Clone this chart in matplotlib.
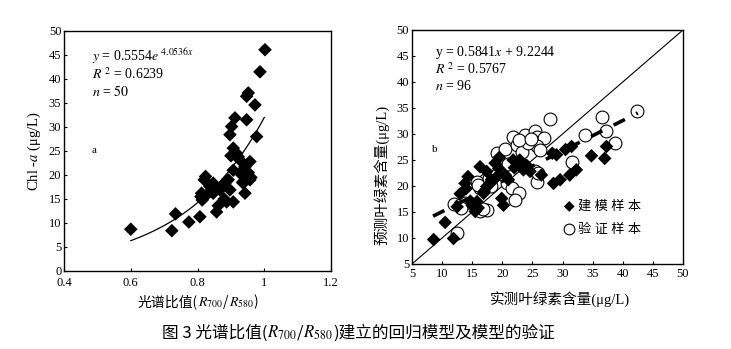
import matplotlib
matplotlib.use("Agg")
import matplotlib.pyplot as plt
from matplotlib.offsetbox import TextArea, HPacker, AnnotationBbox
import numpy as np

plt.rcParams['font.family'] = ['Liberation Serif', 'Noto Sans CJK SC', 'DejaVu Sans']
plt.rcParams['mathtext.fontset'] = 'stix'

# ---- Panel a data: spectral ratio vs Chl-a ----
ratio_a = [0.600, 0.734, 0.723, 0.774, 0.807, 0.857, 0.862, 0.812, 0.814, 0.824,
           0.847, 0.837, 0.847, 0.867, 0.882, 0.892, 0.897, 0.887, 0.907, 0.897,
           0.902, 0.912, 0.947, 0.907, 0.922, 0.907, 0.927, 0.937, 0.947, 0.957,
           0.942, 0.957, 0.952, 0.947, 0.972, 0.977, 0.987, 1.002, 0.927, 0.942,
           0.832, 0.810, 0.870, 0.917, 0.952, 0.880, 0.820, 0.900, 0.935, 0.960]
chl_a = [8.7, 11.9, 8.4, 10.2, 11.3, 12.3, 13.6, 16.2, 14.8, 19.7,
         18.3, 17.6, 16.2, 16.9, 18.3, 19.0, 16.9, 14.4, 14.4, 28.4,
         30.1, 31.9, 31.5, 25.6, 23.8, 21.0, 20.4, 18.3, 19.7, 19.0,
         16.2, 22.8, 37.1, 36.4, 34.6, 28.0, 41.5, 46.1, 23.1, 21.7,
         16.2, 15.5, 17.5, 24.5, 20.5, 15.0, 19.0, 24.0, 18.5, 19.5]
fit_a_coef = 0.5554
fit_a_exp = 4.0536

# ---- Panel b data: measured vs predicted ----
meas_model = [8.6, 10.5, 11.9, 13.0, 14.3, 14.7, 15.0, 15.5, 15.8, 16.3,
              17.4, 16.9, 17.4, 18.2, 18.8, 19.4, 19.1, 19.9, 20.2, 20.5,
              21.0, 21.8, 22.9, 23.5, 24.6, 26.5, 28.3, 29.0, 28.5, 29.6,
              31.2, 31.5, 32.3, 34.8, 37.0, 37.3, 13.8, 16.0, 18.0, 22.0,
              24.0, 15.2, 17.0, 19.5, 12.5, 14.0, 23.0, 30.5]
pred_model = [9.7, 13.0, 9.9, 18.5, 21.8, 17.1, 16.3, 15.1, 17.0, 23.7,
              22.8, 18.6, 19.9, 21.2, 24.4, 23.4, 21.8, 17.6, 16.3, 22.1,
              21.2, 25.0, 25.0, 23.1, 22.8, 22.1, 26.3, 26.0, 20.5, 21.2,
              22.1, 27.6, 23.1, 25.8, 25.3, 27.6, 20.5, 15.8, 20.5, 23.5,
              24.0, 16.0, 19.0, 25.5, 16.0, 19.5, 24.5, 27.0]
meas_valid = [12.5, 11.9, 12.9, 13.8, 16.3, 17.4, 17.1, 16.3, 19.1, 20.5,
              21.8, 22.4, 23.2, 23.8, 25.4, 25.7, 25.4, 26.9, 25.7, 27.9,
              20.7, 21.6, 22.7, 22.1, 25.4, 25.7, 33.7, 36.5, 37.3, 38.7,
              42.3, 31.5, 19.6, 15.8, 17.8, 18.5, 24.2, 26.2, 20.0, 13.2,
              22.8, 16.8, 23.5, 24.8, 18.2, 16.0, 21.0, 26.0]
pred_valid = [11.0, 16.5, 16.3, 16.8, 15.1, 15.4, 21.2, 19.6, 26.3, 27.2,
              29.5, 27.9, 26.6, 29.8, 30.5, 29.5, 28.5, 29.2, 27.6, 32.8,
              20.5, 19.6, 18.6, 17.3, 22.8, 20.8, 29.8, 33.3, 30.5, 28.3,
              34.5, 24.7, 23.1, 20.8, 21.5, 22.0, 28.2, 27.0, 22.3, 15.8,
              28.8, 15.6, 24.0, 29.0, 20.0, 20.2, 24.2, 22.5]
fit_b_slope = 0.5841
fit_b_icpt = 9.2244

fig = plt.figure(figsize=(7.31, 3.49), dpi=100)


def mixed_text(parts, xy, fontsize):
    """parts: list of strings; strings with $ are rendered as STIX math,
    others as CJK/serif text. Packed on a common baseline."""
    kids = []
    for p in parts:
        if '$' in p:
            props = dict(fontsize=fontsize, math_fontfamily='stix')
        else:
            props = dict(fontsize=fontsize, family=['Noto Sans CJK SC', 'DejaVu Sans'])
        kids.append(TextArea(p, textprops=props))
    pack = HPacker(children=kids, pad=0, sep=0, align='baseline')
    ab = AnnotationBbox(pack, xy, xycoords='figure fraction', frameon=False,
                        box_alignment=(0.5, 0.5), pad=0)
    fig.add_artist(ab)


# ---------- Panel a ----------
ax1 = fig.add_axes([0.0876, 0.2235, 0.3653, 0.6877])
ax1.scatter(ratio_a, chl_a, marker='D', s=48, color='black', edgecolors='none', zorder=3)
xs = np.linspace(0.6, 1.0, 100)
ax1.plot(xs, fit_a_coef * np.exp(fit_a_exp * xs), color='black', lw=0.9, zorder=2)
ax1.set_xlim(0.4, 1.2)
ax1.set_ylim(0, 50)
ax1.set_xticks([0.4, 0.6, 0.8, 1.0, 1.2])
ax1.set_xticklabels(['0.4', '0.6', '0.8', '1', '1.2'])
ax1.set_yticks(np.arange(0, 51, 5))
ax1.text(0.105, 0.935, r'$y$ = 0.5554$e^{\ 4.0536x}$', transform=ax1.transAxes, fontsize=10,
         va='top', math_fontfamily='stix')
ax1.text(0.105, 0.855, r'$R^{\ 2}$ = 0.6239', transform=ax1.transAxes, fontsize=10,
         va='top', math_fontfamily='stix')
ax1.text(0.105, 0.78, r'$n$ = $50$', transform=ax1.transAxes, fontsize=10,
         va='top', math_fontfamily='stix')
ax1.text(0.105, 0.5, 'a', transform=ax1.transAxes, fontsize=8, va='center')
ax1.set_ylabel('Chl -$a$ (μg/L)', fontsize=10.5, labelpad=4, math_fontfamily='stix')
mixed_text(['光谱比值(', r'$R_{700}$', '/', r'$R_{580}$', ')'], (0.271, 1 - 302 / 349), 10)

# ---------- Panel b ----------
ax2 = fig.add_axes([0.5636, 0.2436, 0.3707, 0.6705])
ax2.plot([5, 50], [5, 50], color='black', lw=0.8, zorder=1)
xb = np.array([8.5, 42.5])
ax2.plot(xb, fit_b_slope * xb + fit_b_icpt, color='black', lw=2.6,
         dashes=(3.5, 3.5), zorder=4)
ax2.scatter(meas_valid, pred_valid, marker='o', s=85, facecolors='white',
            edgecolors='black', linewidths=0.8, zorder=2, label='验 证 样 本')
ax2.scatter(meas_model, pred_model, marker='D', s=48, color='black',
            edgecolors='none', zorder=3, label='建 模 样 本')
ax2.set_xlim(5, 50)
ax2.set_ylim(5, 50)
ax2.set_xticks(np.arange(5, 51, 5))
ax2.set_yticks(np.arange(5, 51, 5))
ax2.text(0.085, 0.94, r'y = 0.5841$x$ + 9.2244', transform=ax2.transAxes, fontsize=10,
         va='top', math_fontfamily='stix')
ax2.text(0.085, 0.865, r'$R^{\ 2}$ = 0.5767', transform=ax2.transAxes, fontsize=10,
         va='top', math_fontfamily='stix')
ax2.text(0.085, 0.79, r'$n$ = 96', transform=ax2.transAxes, fontsize=10,
         va='top', math_fontfamily='stix')
ax2.text(0.075, 0.49, 'b', transform=ax2.transAxes, fontsize=8, va='center')
h, l = ax2.get_legend_handles_labels()
leg = ax2.legend([h[1], h[0]], [l[1], l[0]], loc='lower left', bbox_to_anchor=(0.5, 0.07),
                 frameon=False, fontsize=9.5, handletextpad=-0.1, labelspacing=0.8,
                 handlelength=1.5)
leg.legend_handles[0].set_sizes([30])
leg.legend_handles[1].set_sizes([60])
ax2.set_xlabel('实测叶绿素含量(μg/L)', fontsize=10.5)
ax2.set_ylabel('预测叶绿素含量(μg/L)', fontsize=10.5)
ax2.xaxis.set_label_coords(0.546, -0.115)
ax2.yaxis.set_label_coords(-0.082, 0.38)

for ax in (ax1, ax2):
    ax.tick_params(direction='in', length=2.5, width=0.8, labelsize=9, pad=2)
    ax.tick_params(axis='x', pad=3)
    for sp in ax.spines.values():
        sp.set_linewidth(1.0)
ax1.tick_params(axis='x', pad=4.5)

mixed_text(['图 3 光谱比值(', r'$R_{700}$', '/', r'$R_{580}$', ')建立的回归模型及模型的验证'],
           (0.49, 1 - 333 / 349), 12)

fig.savefig('out.png', dpi=100)
